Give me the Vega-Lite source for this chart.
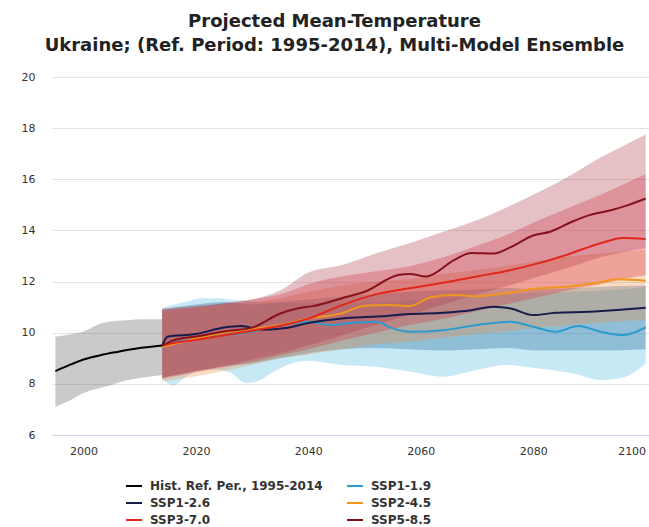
{
  "$schema": "https://vega.github.io/schema/vega-lite/v6.json",
  "width": 597,
  "height": 358,
  "autosize": {"type": "none"},
  "padding": {"left": 52, "top": 77, "right": 0, "bottom": 92},
  "background": "white",
  "config": {"view": {"stroke": null}},
  "title": {
    "text": ["Projected Mean-Temperature", "Ukraine; (Ref. Period: 1995-2014), Multi-Model Ensemble"],
    "font": "DejaVu Sans",
    "fontWeight": "bold",
    "fontSize": 18,
    "color": "#222222",
    "lineHeight": 24,
    "anchor": "middle",
    "frame": "group",
    "offset": 16,
    "dx": -16
  },
  "datasets": {
    "bands": [
      {"s": "Hist. Ref. Per., 1995-2014", "year": 1995, "lo": 7.1, "hi": 9.84},
      {"s": "Hist. Ref. Per., 1995-2014", "year": 1998, "lo": 7.4, "hi": 9.95},
      {"s": "Hist. Ref. Per., 1995-2014", "year": 2000, "lo": 7.64, "hi": 10.05},
      {"s": "Hist. Ref. Per., 1995-2014", "year": 2003, "lo": 7.85, "hi": 10.36},
      {"s": "Hist. Ref. Per., 1995-2014", "year": 2005, "lo": 7.96, "hi": 10.45},
      {"s": "Hist. Ref. Per., 1995-2014", "year": 2007, "lo": 8.1, "hi": 10.48},
      {"s": "Hist. Ref. Per., 1995-2014", "year": 2010, "lo": 8.23, "hi": 10.53},
      {"s": "Hist. Ref. Per., 1995-2014", "year": 2014, "lo": 8.35, "hi": 10.53},

      {"s": "SSP1-1.9", "year": 2014, "lo": 8.2, "hi": 10.95},
      {"s": "SSP1-1.9", "year": 2016, "lo": 7.95, "hi": 11.1},
      {"s": "SSP1-1.9", "year": 2018, "lo": 8.25, "hi": 11.2},
      {"s": "SSP1-1.9", "year": 2021, "lo": 8.55, "hi": 11.35},
      {"s": "SSP1-1.9", "year": 2024, "lo": 8.55, "hi": 11.35},
      {"s": "SSP1-1.9", "year": 2026, "lo": 8.45, "hi": 11.3},
      {"s": "SSP1-1.9", "year": 2029, "lo": 8.02, "hi": 11.25},
      {"s": "SSP1-1.9", "year": 2031, "lo": 8.1, "hi": 11.2},
      {"s": "SSP1-1.9", "year": 2034, "lo": 8.5, "hi": 11.2},
      {"s": "SSP1-1.9", "year": 2037, "lo": 8.8, "hi": 11.15},
      {"s": "SSP1-1.9", "year": 2040, "lo": 8.9, "hi": 11.15},
      {"s": "SSP1-1.9", "year": 2046, "lo": 8.74, "hi": 11.15},
      {"s": "SSP1-1.9", "year": 2052, "lo": 8.67, "hi": 11.2},
      {"s": "SSP1-1.9", "year": 2058, "lo": 8.48, "hi": 11.25},
      {"s": "SSP1-1.9", "year": 2064, "lo": 8.28, "hi": 11.35},
      {"s": "SSP1-1.9", "year": 2070, "lo": 8.54, "hi": 11.45},
      {"s": "SSP1-1.9", "year": 2075, "lo": 8.74, "hi": 11.5},
      {"s": "SSP1-1.9", "year": 2081, "lo": 8.6, "hi": 11.55},
      {"s": "SSP1-1.9", "year": 2087, "lo": 8.41, "hi": 11.6},
      {"s": "SSP1-1.9", "year": 2092, "lo": 8.15, "hi": 11.65},
      {"s": "SSP1-1.9", "year": 2096, "lo": 8.25, "hi": 11.7},
      {"s": "SSP1-1.9", "year": 2100, "lo": 8.8, "hi": 11.8},

      {"s": "SSP1-2.6", "year": 2014, "lo": 8.25, "hi": 10.9},
      {"s": "SSP1-2.6", "year": 2020, "lo": 8.5, "hi": 11.1},
      {"s": "SSP1-2.6", "year": 2025, "lo": 8.7, "hi": 11.2},
      {"s": "SSP1-2.6", "year": 2030, "lo": 8.8, "hi": 11.1},
      {"s": "SSP1-2.6", "year": 2035, "lo": 9.0, "hi": 11.2},
      {"s": "SSP1-2.6", "year": 2040, "lo": 9.2, "hi": 11.3},
      {"s": "SSP1-2.6", "year": 2046, "lo": 9.35, "hi": 11.4},
      {"s": "SSP1-2.6", "year": 2052, "lo": 9.4, "hi": 11.5},
      {"s": "SSP1-2.6", "year": 2058, "lo": 9.35, "hi": 11.6},
      {"s": "SSP1-2.6", "year": 2064, "lo": 9.3, "hi": 11.65},
      {"s": "SSP1-2.6", "year": 2070, "lo": 9.35, "hi": 11.7},
      {"s": "SSP1-2.6", "year": 2075, "lo": 9.4, "hi": 11.75},
      {"s": "SSP1-2.6", "year": 2081, "lo": 9.3, "hi": 11.7},
      {"s": "SSP1-2.6", "year": 2087, "lo": 9.3, "hi": 11.75},
      {"s": "SSP1-2.6", "year": 2092, "lo": 9.3, "hi": 11.8},
      {"s": "SSP1-2.6", "year": 2100, "lo": 9.35, "hi": 11.85},

      {"s": "SSP2-4.5", "year": 2014, "lo": 8.1, "hi": 10.85},
      {"s": "SSP2-4.5", "year": 2020, "lo": 8.3, "hi": 11.0},
      {"s": "SSP2-4.5", "year": 2025, "lo": 8.5, "hi": 11.1},
      {"s": "SSP2-4.5", "year": 2030, "lo": 8.75, "hi": 11.2},
      {"s": "SSP2-4.5", "year": 2035, "lo": 9.0, "hi": 11.35},
      {"s": "SSP2-4.5", "year": 2040, "lo": 9.15, "hi": 11.6},
      {"s": "SSP2-4.5", "year": 2046, "lo": 9.35, "hi": 11.85},
      {"s": "SSP2-4.5", "year": 2052, "lo": 9.55, "hi": 12.0},
      {"s": "SSP2-4.5", "year": 2058, "lo": 9.65, "hi": 12.1},
      {"s": "SSP2-4.5", "year": 2064, "lo": 9.8, "hi": 12.3},
      {"s": "SSP2-4.5", "year": 2070, "lo": 9.95, "hi": 12.45},
      {"s": "SSP2-4.5", "year": 2075, "lo": 10.05, "hi": 12.6},
      {"s": "SSP2-4.5", "year": 2081, "lo": 10.2, "hi": 12.8},
      {"s": "SSP2-4.5", "year": 2087, "lo": 10.3, "hi": 13.0},
      {"s": "SSP2-4.5", "year": 2092, "lo": 10.4, "hi": 13.1},
      {"s": "SSP2-4.5", "year": 2100, "lo": 10.5, "hi": 13.25},

      {"s": "SSP3-7.0", "year": 2014, "lo": 8.2, "hi": 10.9},
      {"s": "SSP3-7.0", "year": 2020, "lo": 8.45, "hi": 11.0},
      {"s": "SSP3-7.0", "year": 2025, "lo": 8.65, "hi": 11.15},
      {"s": "SSP3-7.0", "year": 2030, "lo": 8.85, "hi": 11.3},
      {"s": "SSP3-7.0", "year": 2035, "lo": 9.1, "hi": 11.5},
      {"s": "SSP3-7.0", "year": 2040, "lo": 9.35, "hi": 11.9},
      {"s": "SSP3-7.0", "year": 2046, "lo": 9.7, "hi": 12.2},
      {"s": "SSP3-7.0", "year": 2052, "lo": 10.0, "hi": 12.4},
      {"s": "SSP3-7.0", "year": 2058, "lo": 10.3, "hi": 12.6},
      {"s": "SSP3-7.0", "year": 2064, "lo": 10.55, "hi": 12.95},
      {"s": "SSP3-7.0", "year": 2070, "lo": 10.85, "hi": 13.4},
      {"s": "SSP3-7.0", "year": 2075, "lo": 11.1, "hi": 13.8},
      {"s": "SSP3-7.0", "year": 2081, "lo": 11.4, "hi": 14.4},
      {"s": "SSP3-7.0", "year": 2087, "lo": 11.7, "hi": 14.95},
      {"s": "SSP3-7.0", "year": 2092, "lo": 11.9, "hi": 15.4},
      {"s": "SSP3-7.0", "year": 2096, "lo": 12.1, "hi": 15.8},
      {"s": "SSP3-7.0", "year": 2100, "lo": 12.25, "hi": 16.2},

      {"s": "SSP5-8.5", "year": 2014, "lo": 8.25, "hi": 10.95},
      {"s": "SSP5-8.5", "year": 2020, "lo": 8.5, "hi": 11.05},
      {"s": "SSP5-8.5", "year": 2025, "lo": 8.7, "hi": 11.15},
      {"s": "SSP5-8.5", "year": 2030, "lo": 8.95, "hi": 11.3},
      {"s": "SSP5-8.5", "year": 2035, "lo": 9.2, "hi": 11.65},
      {"s": "SSP5-8.5", "year": 2040, "lo": 9.5, "hi": 12.35},
      {"s": "SSP5-8.5", "year": 2046, "lo": 9.9, "hi": 12.65},
      {"s": "SSP5-8.5", "year": 2052, "lo": 10.3, "hi": 13.1},
      {"s": "SSP5-8.5", "year": 2058, "lo": 10.7, "hi": 13.5},
      {"s": "SSP5-8.5", "year": 2064, "lo": 11.1, "hi": 13.95},
      {"s": "SSP5-8.5", "year": 2070, "lo": 11.5, "hi": 14.4},
      {"s": "SSP5-8.5", "year": 2075, "lo": 11.8, "hi": 14.87},
      {"s": "SSP5-8.5", "year": 2081, "lo": 12.2, "hi": 15.5},
      {"s": "SSP5-8.5", "year": 2087, "lo": 12.6, "hi": 16.2},
      {"s": "SSP5-8.5", "year": 2092, "lo": 12.95, "hi": 16.85},
      {"s": "SSP5-8.5", "year": 2096, "lo": 13.15, "hi": 17.3},
      {"s": "SSP5-8.5", "year": 2100, "lo": 13.3, "hi": 17.75}
    ],
    "lines": [
      {"s": "Hist. Ref. Per., 1995-2014", "year": 1995, "t": 8.5},
      {"s": "Hist. Ref. Per., 1995-2014", "year": 1998, "t": 8.78},
      {"s": "Hist. Ref. Per., 1995-2014", "year": 2000, "t": 8.95},
      {"s": "Hist. Ref. Per., 1995-2014", "year": 2003, "t": 9.12},
      {"s": "Hist. Ref. Per., 1995-2014", "year": 2006, "t": 9.25},
      {"s": "Hist. Ref. Per., 1995-2014", "year": 2010, "t": 9.4},
      {"s": "Hist. Ref. Per., 1995-2014", "year": 2014, "t": 9.5},

      {"s": "SSP1-1.9", "year": 2014, "t": 9.5},
      {"s": "SSP1-1.9", "year": 2016, "t": 9.62},
      {"s": "SSP1-1.9", "year": 2020, "t": 9.75},
      {"s": "SSP1-1.9", "year": 2025, "t": 9.9},
      {"s": "SSP1-1.9", "year": 2030, "t": 10.05},
      {"s": "SSP1-1.9", "year": 2035, "t": 10.3},
      {"s": "SSP1-1.9", "year": 2040, "t": 10.43},
      {"s": "SSP1-1.9", "year": 2044, "t": 10.3},
      {"s": "SSP1-1.9", "year": 2047, "t": 10.37},
      {"s": "SSP1-1.9", "year": 2052, "t": 10.43},
      {"s": "SSP1-1.9", "year": 2055, "t": 10.17},
      {"s": "SSP1-1.9", "year": 2058, "t": 10.04},
      {"s": "SSP1-1.9", "year": 2064, "t": 10.1},
      {"s": "SSP1-1.9", "year": 2070, "t": 10.3},
      {"s": "SSP1-1.9", "year": 2076, "t": 10.43},
      {"s": "SSP1-1.9", "year": 2080, "t": 10.23},
      {"s": "SSP1-1.9", "year": 2084, "t": 10.04},
      {"s": "SSP1-1.9", "year": 2088, "t": 10.26},
      {"s": "SSP1-1.9", "year": 2092, "t": 10.04},
      {"s": "SSP1-1.9", "year": 2096, "t": 9.91},
      {"s": "SSP1-1.9", "year": 2100, "t": 10.21},

      {"s": "SSP1-2.6", "year": 2014, "t": 9.5},
      {"s": "SSP1-2.6", "year": 2015, "t": 9.85},
      {"s": "SSP1-2.6", "year": 2020, "t": 9.95},
      {"s": "SSP1-2.6", "year": 2025, "t": 10.2},
      {"s": "SSP1-2.6", "year": 2028, "t": 10.26},
      {"s": "SSP1-2.6", "year": 2032, "t": 10.12},
      {"s": "SSP1-2.6", "year": 2036, "t": 10.18},
      {"s": "SSP1-2.6", "year": 2040, "t": 10.38},
      {"s": "SSP1-2.6", "year": 2046, "t": 10.56},
      {"s": "SSP1-2.6", "year": 2052, "t": 10.63},
      {"s": "SSP1-2.6", "year": 2058, "t": 10.73},
      {"s": "SSP1-2.6", "year": 2064, "t": 10.78},
      {"s": "SSP1-2.6", "year": 2069, "t": 10.88},
      {"s": "SSP1-2.6", "year": 2073, "t": 11.02},
      {"s": "SSP1-2.6", "year": 2076, "t": 10.95},
      {"s": "SSP1-2.6", "year": 2080, "t": 10.69},
      {"s": "SSP1-2.6", "year": 2084, "t": 10.78},
      {"s": "SSP1-2.6", "year": 2090, "t": 10.82},
      {"s": "SSP1-2.6", "year": 2095, "t": 10.89},
      {"s": "SSP1-2.6", "year": 2100, "t": 10.98},

      {"s": "SSP2-4.5", "year": 2014, "t": 9.45},
      {"s": "SSP2-4.5", "year": 2016, "t": 9.55},
      {"s": "SSP2-4.5", "year": 2020, "t": 9.78},
      {"s": "SSP2-4.5", "year": 2025, "t": 10.0},
      {"s": "SSP2-4.5", "year": 2030, "t": 10.15},
      {"s": "SSP2-4.5", "year": 2035, "t": 10.3},
      {"s": "SSP2-4.5", "year": 2040, "t": 10.55},
      {"s": "SSP2-4.5", "year": 2046, "t": 10.76},
      {"s": "SSP2-4.5", "year": 2050, "t": 11.05},
      {"s": "SSP2-4.5", "year": 2054, "t": 11.08},
      {"s": "SSP2-4.5", "year": 2058, "t": 11.04},
      {"s": "SSP2-4.5", "year": 2062, "t": 11.4},
      {"s": "SSP2-4.5", "year": 2066, "t": 11.47},
      {"s": "SSP2-4.5", "year": 2070, "t": 11.43},
      {"s": "SSP2-4.5", "year": 2075, "t": 11.54},
      {"s": "SSP2-4.5", "year": 2081, "t": 11.74},
      {"s": "SSP2-4.5", "year": 2086, "t": 11.8},
      {"s": "SSP2-4.5", "year": 2091, "t": 11.93},
      {"s": "SSP2-4.5", "year": 2095, "t": 12.09},
      {"s": "SSP2-4.5", "year": 2100, "t": 12.03},

      {"s": "SSP3-7.0", "year": 2014, "t": 9.5},
      {"s": "SSP3-7.0", "year": 2016, "t": 9.6},
      {"s": "SSP3-7.0", "year": 2020, "t": 9.72},
      {"s": "SSP3-7.0", "year": 2025, "t": 9.9},
      {"s": "SSP3-7.0", "year": 2030, "t": 10.08},
      {"s": "SSP3-7.0", "year": 2035, "t": 10.27},
      {"s": "SSP3-7.0", "year": 2040, "t": 10.55},
      {"s": "SSP3-7.0", "year": 2046, "t": 11.08},
      {"s": "SSP3-7.0", "year": 2052, "t": 11.5},
      {"s": "SSP3-7.0", "year": 2058, "t": 11.74},
      {"s": "SSP3-7.0", "year": 2064, "t": 11.95},
      {"s": "SSP3-7.0", "year": 2070, "t": 12.2},
      {"s": "SSP3-7.0", "year": 2075, "t": 12.4},
      {"s": "SSP3-7.0", "year": 2081, "t": 12.72},
      {"s": "SSP3-7.0", "year": 2086, "t": 13.05},
      {"s": "SSP3-7.0", "year": 2092, "t": 13.5},
      {"s": "SSP3-7.0", "year": 2096, "t": 13.7},
      {"s": "SSP3-7.0", "year": 2100, "t": 13.66},

      {"s": "SSP5-8.5", "year": 2014, "t": 9.5},
      {"s": "SSP5-8.5", "year": 2016, "t": 9.7},
      {"s": "SSP5-8.5", "year": 2020, "t": 9.85},
      {"s": "SSP5-8.5", "year": 2025, "t": 10.05},
      {"s": "SSP5-8.5", "year": 2030, "t": 10.2},
      {"s": "SSP5-8.5", "year": 2035, "t": 10.75},
      {"s": "SSP5-8.5", "year": 2038, "t": 10.95},
      {"s": "SSP5-8.5", "year": 2041, "t": 11.05},
      {"s": "SSP5-8.5", "year": 2046, "t": 11.35},
      {"s": "SSP5-8.5", "year": 2050, "t": 11.6},
      {"s": "SSP5-8.5", "year": 2056, "t": 12.26},
      {"s": "SSP5-8.5", "year": 2058, "t": 12.3},
      {"s": "SSP5-8.5", "year": 2061, "t": 12.2},
      {"s": "SSP5-8.5", "year": 2066, "t": 12.85},
      {"s": "SSP5-8.5", "year": 2069, "t": 13.12},
      {"s": "SSP5-8.5", "year": 2073, "t": 13.1},
      {"s": "SSP5-8.5", "year": 2076, "t": 13.35},
      {"s": "SSP5-8.5", "year": 2080, "t": 13.8},
      {"s": "SSP5-8.5", "year": 2083, "t": 13.95},
      {"s": "SSP5-8.5", "year": 2087, "t": 14.35},
      {"s": "SSP5-8.5", "year": 2090, "t": 14.6},
      {"s": "SSP5-8.5", "year": 2094, "t": 14.8},
      {"s": "SSP5-8.5", "year": 2097, "t": 15.0},
      {"s": "SSP5-8.5", "year": 2100, "t": 15.25}
    ]
  },
  "resolve": {"scale": {"color": "independent"}},
  "layer": [
    {
      "data": {"name": "bands"},
      "mark": {"type": "area", "interpolate": "monotone", "clip": true, "opacity": 0.31},
      "encoding": {
        "x": {"field": "year", "type": "quantitative", "scale": {"domain": [1994.4, 2100.6], "nice": false, "zero": false},
              "axis": {"values": [2000, 2020, 2040, 2060, 2080, 2100], "format": "d", "title": null, "grid": false, "ticks": false,
                       "domain": true, "domainColor": "#ccd6eb", "domainWidth": 1, "labelFont": "DejaVu Sans", "labelFontSize": 11,
                       "labelColor": "#333333", "labelPadding": 10, "labelFlush": 5}},
        "y": {"field": "lo", "type": "quantitative", "scale": {"domain": [6, 20], "nice": false, "zero": false},
              "axis": {"values": [6, 8, 10, 12, 14, 16, 18, 20], "title": null, "grid": true, "gridColor": "#e3e3e3", "domain": false,
                       "ticks": false, "labelFont": "DejaVu Sans", "labelFontSize": 11, "labelColor": "#333333", "labelPadding": 17}},
        "y2": {"field": "hi"},
        "color": {"field": "s", "type": "nominal", "legend": null,
                  "scale": {"domain": ["Hist. Ref. Per., 1995-2014", "SSP1-1.9", "SSP1-2.6", "SSP2-4.5", "SSP3-7.0", "SSP5-8.5"],
                            "range": ["#555555", "#48b9de", "#1d5c96", "#f08a3c", "#d8283a", "#ac3748"]}}
      }
    },
    {
      "data": {"name": "lines"},
      "mark": {"type": "line", "interpolate": "monotone", "strokeWidth": 2, "clip": true},
      "encoding": {
        "x": {"field": "year", "type": "quantitative"},
        "y": {"field": "t", "type": "quantitative"},
        "color": {"field": "s", "type": "nominal",
                  "scale": {"domain": ["Hist. Ref. Per., 1995-2014", "SSP1-2.6", "SSP3-7.0", "SSP1-1.9", "SSP2-4.5", "SSP5-8.5"],
                            "range": ["#000000", "#161c4c", "#e1261c", "#2a9bcd", "#f0961e", "#86121b"]},
                  "legend": {"orient": "none", "legendX": 73, "legendY": 400, "columns": 2, "title": null,
                             "symbolType": "stroke", "symbolSize": 256, "symbolStrokeWidth": 2, "symbolOpacity": 1,
                             "labelFont": "DejaVu Sans", "labelFontWeight": "bold", "labelFontSize": 12, "labelColor": "#333333",
                             "labelOffset": 7, "columnPadding": 20, "rowPadding": 2, "padding": 0, "labelLimit": 400}}
      }
    }
  ]
}
